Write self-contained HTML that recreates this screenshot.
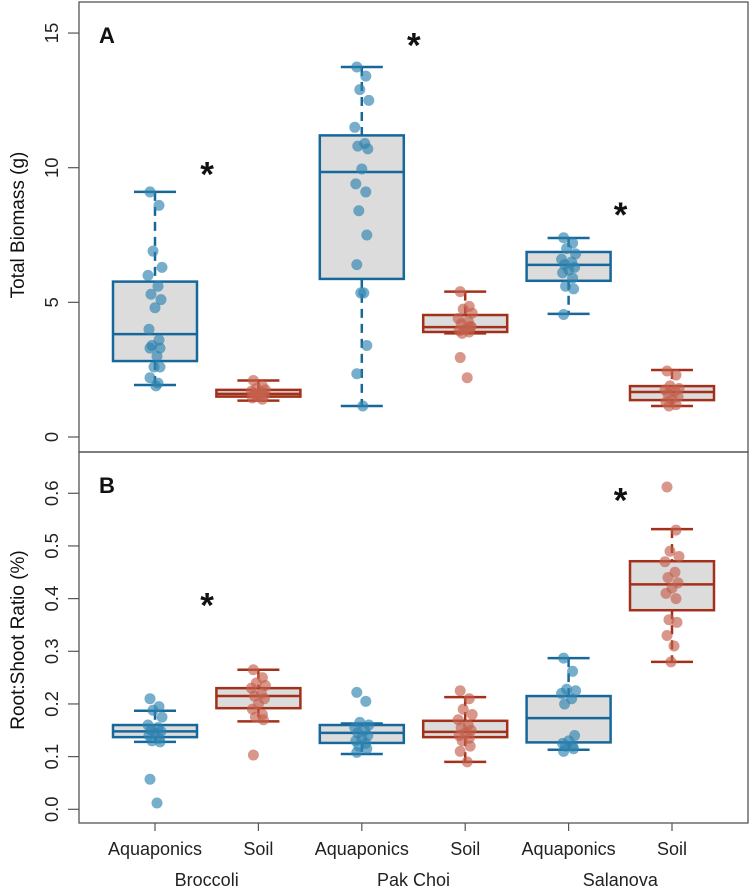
<!DOCTYPE html>
<html><head><meta charset="utf-8"><style>
html,body{margin:0;padding:0;background:#fff}
svg{display:block;font-family:"Liberation Sans",Arial,sans-serif}
</style></head><body>
<svg id="chart" width="752" height="892" viewBox="0 0 752 892"></svg>
<script>
const categories = ["Aquaponics","Soil","Aquaponics","Soil","Aquaponics","Soil"];
const groups = ["Broccoli","Pak Choi","Salanova"];
const treat = ["aq","soil","aq","soil","aq","soil"];
// Panel A box stats [low, q1, median, q3, high]
const statsA = [[1.93,2.82,3.82,5.77,9.1],[1.35,1.5,1.6,1.75,2.1],[1.15,5.87,9.84,11.2,13.74],[3.85,3.9,4.08,4.53,5.4],[4.57,5.8,6.39,6.87,7.39],[1.15,1.37,1.67,1.89,2.49]];
const pointsA = [
 [9.1,8.6,6.9,6.3,6.0,5.6,5.3,5.1,4.8,4.0,3.6,3.4,3.3,3.3,3.0,2.6,2.6,2.2,1.9,2.0],
 [2.1,1.9,1.8,1.75,1.7,1.65,1.6,1.55,1.5,1.45,1.4,1.6],
 [13.74,13.4,12.9,12.5,11.5,10.9,10.8,10.7,9.95,9.4,9.1,8.4,7.5,6.4,5.35,5.35,3.4,2.35,1.15],
 [5.4,4.85,4.75,4.6,4.4,4.3,4.2,4.1,4.0,3.95,3.9,3.85,4.1,2.95,2.2],
 [7.4,7.2,7.0,6.8,6.6,6.5,6.4,6.3,6.2,6.1,5.9,5.6,5.5,4.55],
 [2.45,2.3,1.9,1.8,1.75,1.7,1.6,1.5,1.4,1.3,1.2,1.15]];
const statsB = [[0.128,0.137,0.148,0.16,0.187],[0.167,0.192,0.215,0.23,0.265],[0.105,0.126,0.145,0.16,0.163],[0.09,0.137,0.147,0.168,0.213],[0.113,0.127,0.173,0.215,0.287],[0.28,0.378,0.427,0.471,0.532]];
const pointsB = [
 [0.21,0.195,0.188,0.175,0.16,0.155,0.15,0.148,0.145,0.14,0.135,0.13,0.128,0.057,0.012],
 [0.265,0.25,0.24,0.235,0.23,0.22,0.215,0.21,0.2,0.19,0.18,0.175,0.17,0.103],
 [0.222,0.205,0.165,0.16,0.155,0.15,0.145,0.14,0.135,0.13,0.125,0.12,0.115,0.108],
 [0.225,0.21,0.19,0.18,0.17,0.16,0.155,0.15,0.145,0.14,0.135,0.13,0.12,0.11,0.09],
 [0.287,0.262,0.228,0.225,0.22,0.21,0.2,0.14,0.13,0.125,0.12,0.12,0.115,0.11],
 [0.612,0.53,0.49,0.48,0.47,0.45,0.44,0.43,0.42,0.41,0.4,0.36,0.355,0.33,0.31,0.28]];
const ticksA = [0,5,10,15];
const ticksB = [0.0,0.1,0.2,0.3,0.4,0.5,0.6];
const starsA = [[0,10],[2,14.8],[4,8.5]];
const starsB = [[0,0.4],[4,0.6]];

const NS="http://www.w3.org/2000/svg";
const svg=document.getElementById('chart');
function mk(tag,attrs,parent){const e=document.createElementNS(NS,tag);for(const k in attrs)e.setAttribute(k,attrs[k]);(parent||svg).appendChild(e);return e;}
const xPos=i=>155+i*103.4;
const yA=v=>437-26.93*v;
const yB=v=>809.3-526.7*v;
const col={aq:"#17689a",soil:"#a3301a"};
const ptc={aq:"rgba(45,130,175,0.65)",soil:"rgba(195,95,75,0.65)"};
const jit=[-5,4,-2,7,-7,3,-4,6,0,-6,4,-3,5,-5,2,-1,5,-5,1,3];

function panel(stats,points,y,ticks,fmt,top,bottom,name,letter,title,titleY,stars){
  const g=mk('g',{});
  
  
  const f=mk('rect',{x:79,y:top,width:669,height:bottom-top,fill:'none',stroke:'#555','stroke-width':1.3},g);
  
  
  ticks.forEach(t=>{
    mk('line',{x1:68,x2:79,y1:y(t),y2:y(t),stroke:'#555','stroke-width':1.2},g);
    const tx=mk('text',{x:0,y:0,'font-size':18.5,fill:'#222','text-anchor':'middle',transform:`translate(58,${y(t)}) rotate(-90)`},g);
    tx.textContent=fmt(t);
    
    
  });
  const yt=mk('text',{x:0,y:0,'font-size':19,fill:'#111','text-anchor':'middle',transform:`translate(24,${titleY}) rotate(-90)`},g);
  yt.textContent=title;
  
  
  const lt=mk('text',{x:99,y:top+41,'font-size':22,'font-weight':'bold',fill:'#111'},g);
  lt.textContent=letter;
  
  
  stats.forEach((s,i)=>{
    const x=xPos(i),c=col[treat[i]];
    const bg=mk('g',{},g);
    
    
    mk('line',{x1:x,x2:x,y1:y(s[4]),y2:y(s[3]),stroke:c,'stroke-width':2.5,'stroke-dasharray':'9,6'},bg);
    mk('line',{x1:x,x2:x,y1:y(s[1]),y2:y(s[0]),stroke:c,'stroke-width':2.5,'stroke-dasharray':'9,6'},bg);
    mk('line',{x1:x-21,x2:x+21,y1:y(s[4]),y2:y(s[4]),stroke:c,'stroke-width':2.5},bg);
    mk('line',{x1:x-21,x2:x+21,y1:y(s[0]),y2:y(s[0]),stroke:c,'stroke-width':2.5},bg);
    mk('rect',{x:x-42,y:y(s[3]),width:84,height:Math.max(1,y(s[1])-y(s[3])),fill:'#dcdcdc',stroke:c,'stroke-width':2.5},bg);
    mk('line',{x1:x-42,x2:x+42,y1:y(s[2]),y2:y(s[2]),stroke:c,'stroke-width':2.5},bg);
    points[i].forEach((v,j)=>{
      const p=mk('circle',{cx:x+jit[j%jit.length],cy:y(v),r:5.5,fill:ptc[treat[i]]},bg);
      
      
    });
  });
  stars.forEach(st=>{
    const t=mk('text',{x:xPos(st[0])+52,y:y(st[1])+19,'font-size':35,'font-weight':'bold',fill:'#111','text-anchor':'middle'},g);
    t.textContent='*';
    
    
  });
}
panel(statsA,pointsA,yA,ticksA,t=>String(t),2,452,'panel-a','A','Total Biomass  (g)',225,starsA);
panel(statsB,pointsB,yB,ticksB,t=>t.toFixed(1),452,823,'panel-b','B','Root:Shoot Ratio  (%)',640,starsB);
categories.forEach((c,i)=>{
  mk('line',{x1:xPos(i),x2:xPos(i),y1:823,y2:831,stroke:'#555','stroke-width':1.2});
  const t=mk('text',{x:xPos(i),y:855,'font-size':18,fill:'#222','text-anchor':'middle'});
  t.textContent=c;
  
  
});
groups.forEach((gname,k)=>{
  const t=mk('text',{x:(xPos(2*k)+xPos(2*k+1))/2,y:886,'font-size':18,fill:'#222','text-anchor':'middle'});
  t.textContent=gname;
  
  
});
</script>
</body></html>
